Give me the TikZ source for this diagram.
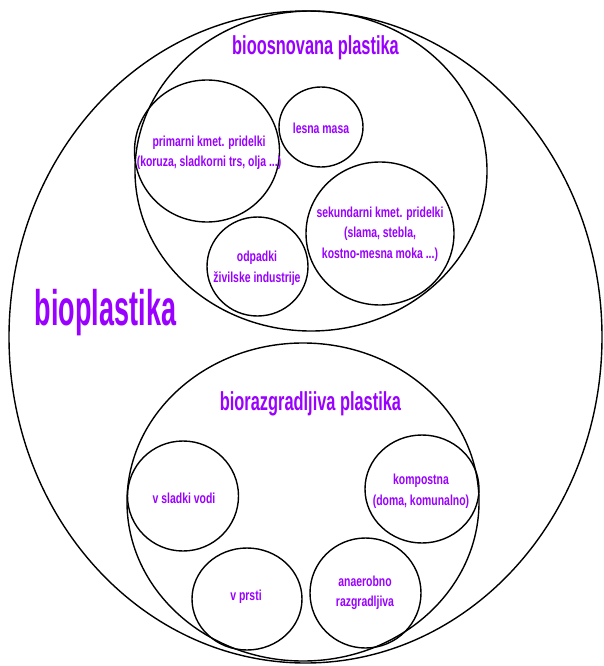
\documentclass[tikz,border=0pt]{standalone}
\usepackage{fontspec}
\usetikzlibrary{shapes.geometric}
\newfontfamily\bigfont[FakeStretch=0.54]{Liberation Sans Bold}
\newfontfamily\titlefont[FakeStretch=0.63]{Liberation Sans Bold}
\newfontfamily\smallfont[FakeStretch=0.72]{Liberation Sans Bold}
\definecolor{purp}{RGB}{153,0,255}
\tikzset{
  ring/.style={draw=black, line width=1.4pt, ellipse, inner sep=0pt, outer sep=0pt},
  lbl/.style={text=purp, align=center, inner sep=0pt, font=\smallfont\fontsize{14.5}{20.5}\selectfont},
  ttl/.style={text=purp, anchor=base, inner sep=0pt, font=\titlefont\fontsize{26}{30}\selectfont},
  bigttl/.style={text=purp, anchor=base, inner sep=0pt, font=\bigfont\fontsize{50}{56}\selectfont}
}
\begin{document}
\begin{tikzpicture}[x=1pt,y=-1pt]
\useasboundingbox (0,0) rectangle (604,666);
% big rings
\node[ring, minimum width=593pt, minimum height=652pt] (outer) at (305.5,337) {};
\node[ring, minimum width=352pt, minimum height=320pt] (based) at (311,171) {};
\node[ring, minimum width=352pt, minimum height=318pt] (degr) at (303,502) {};
% bio-based sub circles
\node[ring, minimum width=145pt, minimum height=142pt] (prim) at (207,151) {};
\node[ring, minimum width=84pt, minimum height=80pt] (lesna) at (321,127) {};
\node[ring, minimum width=148pt, minimum height=143pt] (sek) at (380,233.5) {};
\node[ring, minimum width=101pt, minimum height=99pt] (odp) at (257.5,266.5) {};
% biodegradable sub circles
\node[ring, minimum width=111pt, minimum height=110pt] (sladki) at (183,496) {};
\node[ring, minimum width=114pt, minimum height=108pt] (komp) at (422,489) {};
\node[ring, minimum width=110pt, minimum height=102pt] (prsti) at (247,599) {};
\node[ring, minimum width=111pt, minimum height=110pt] (anaer) at (365.5,593) {};
% titles
\node[bigttl] (tbio) at (105.5,325) {bioplastika};
\node[ttl] (tbased) at (315.5,55) {bioosnovana plastika};
\node[ttl] (tdegr) at (310.5,410) {biorazgradljiva plastika};
% labels
\node[lbl] (tprim) at (209,153) {primarni kmet. pridelki\\(koruza, sladkorni trs, olja ...)};
\node[lbl] (tlesna) at (321,128) {lesna masa};
\node[lbl] (tsek) at (380,234) {sekundarni kmet. pridelki\\(slama, stebla,\\kostno-mesna moka ...)};
\node[lbl] (todp) at (257,268) {odpadki\\živilske industrije};
\node[lbl] (tsladki) at (184,498) {v sladki vodi};
\node[lbl] (tkomp) at (421,491) {kompostna\\(doma, komunalno)};
\node[lbl] (tprsti) at (246,597) {v prsti};
\node[lbl] (tanaer) at (365,593) {anaerobno\\razgradljiva};
\end{tikzpicture}
\end{document}
